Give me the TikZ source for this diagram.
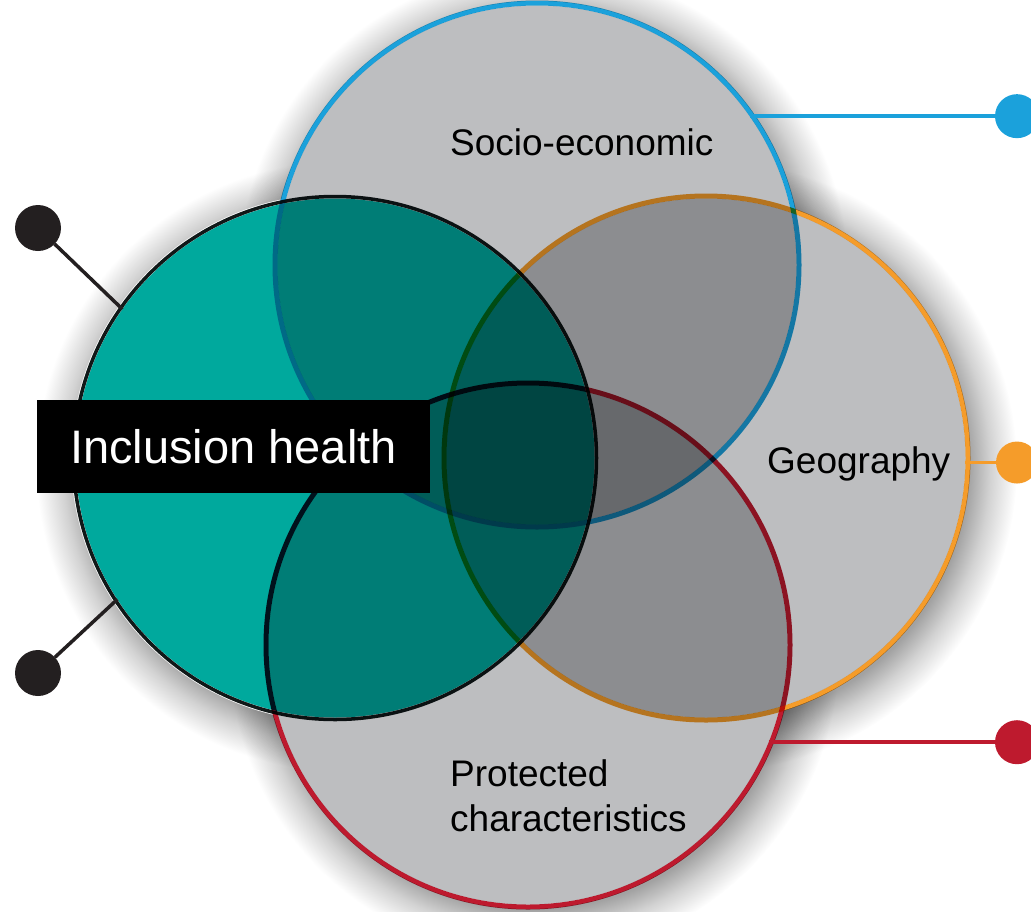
\documentclass[tikz,border=0pt]{standalone}
\usepackage{fontspec}
\setmainfont{Liberation Sans}
\definecolor{socblue}{HTML}{1BA1DB}
\definecolor{geoorange}{HTML}{F59C2A}
\definecolor{protred}{HTML}{BE1A2E}
\definecolor{ihteal}{HTML}{00A99D}
\definecolor{ihrim}{HTML}{101818}
\definecolor{discgray}{HTML}{BDBEC0}
\definecolor{dotblack}{HTML}{231F20}
\definecolor{shadowdark}{HTML}{A2A2A2}
\definecolor{shadowmid}{HTML}{D2D2D2}
% soft halo used as a drop shadow behind each disc
\pgfdeclareradialshading{softshadow}{\pgfpoint{0bp}{0bp}}{%
  color(0bp)=(shadowdark); color(21bp)=(shadowdark);
  color(22.8bp)=(shadowmid); color(25bp)=(white); color(50bp)=(white)}
\begin{document}
\begin{tikzpicture}[x=1pt, y=-1pt,
  disc/.style={circle, inner sep=0pt, outer sep=0pt, minimum size=519pt},
  rim/.style={line width=5pt},
  dotnode/.style={circle, inner sep=0pt, outer sep=0pt, minimum size=#1},
  link/.style={line width=3.5pt},
  label/.style={inner sep=0pt, text=black, font=\fontsize{37}{45}\selectfont}]
\useasboundingbox (0,0) rectangle (1031,911);
\coordinate (rs) at (1017,0);

% drop shadows
\begin{scope}[blend mode=multiply]
  \foreach \cx/\cy in {537/265, 706/458, 528/645, 335/458}
    \shade[shading=softshadow] (\cx+6,\cy+8) circle[radius=305];
\end{scope}
% opaque base under the discs
\foreach \cx/\cy in {537/265, 706/458, 528/645, 335/458}
  \fill[white] (\cx,\cy) circle[radius=264];

% the four discs, multiplied so overlaps darken
\begin{scope}[blend mode=multiply]
  \node[disc, fill=discgray] (soc)  at (537,265) {};
  \node[disc, fill=discgray] (geo)  at (706,458) {};
  \node[disc, fill=discgray] (prot) at (528,645) {};
  \node[disc, fill=ihteal]   (ih)   at (335,458) {};
  \draw[rim, socblue]   (soc.center)  circle[radius=262];
  \draw[rim, geoorange] (geo.center)  circle[radius=262];
  \draw[rim, protred]   (prot.center) circle[radius=262];
  \draw[rim, ihrim, line width=3.5pt] (ih.center) circle[radius=261.5];
\end{scope}

% end markers and their links
\node[dotnode=44pt, fill=socblue]   (dsoc)  at (soc.35 -| rs) {};
\node[dotnode=42pt, fill=geoorange] (dgeo)  at (geo.-1 -| rs) {};
\node[dotnode=44pt, fill=protred]   (dprot) at (prot.-22 -| rs) {};
\node[dotnode=46pt, fill=dotblack]  (dup)   at (38,228) {};
\node[dotnode=46pt, fill=dotblack]  (ddown) at (38,673) {};
\draw[link, socblue]   (soc.35)   -- (dsoc);
\draw[link, geoorange] (geo.-1)   -- (dgeo);
\draw[link, protred]   (prot.-22) -- (dprot);
\draw[link, dotblack]  (dup)   -- (ih.145);
\draw[link, dotblack]  (ddown) -- (ih.213);

% labels
\node[label, anchor=base west] (lsoc) at (450,155) {Socio-economic};
\node[label, anchor=base west] (lgeo) at (767,473) {Geography};
\node[label, anchor=north west, align=left] (lprot) at (450,759)
  {Protected\\characteristics};
\node[fill=black, text=white, inner sep=0pt, minimum width=393pt,
  minimum height=93pt, text height=33.6pt, text depth=0pt,
  font=\fontsize{47}{56}\selectfont] (lih) at (233.5,446.5) {Inclusion health};
\end{tikzpicture}
\end{document}
